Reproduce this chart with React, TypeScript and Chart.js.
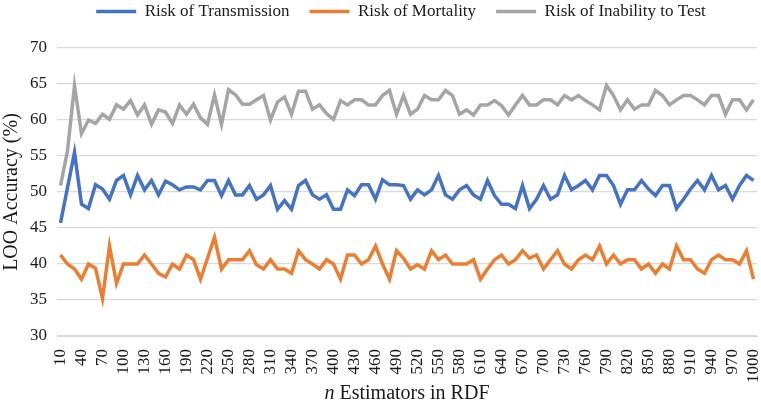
import React, { useEffect, useRef } from "react";
import { Chart, registerables } from "chart.js";

Chart.register(...registerables);

const categories = [
  "10","20","30","40","50","60","70","80","90","100",
  "110","120","130","140","150","160","170","180","190","200",
  "210","220","230","240","250","260","270","280","290","300",
  "310","320","330","340","350","360","370","380","390","400",
  "410","420","430","440","450","460","470","480","490","500",
  "510","520","530","540","550","560","570","580","590","600",
  "610","620","630","640","650","660","670","680","690","700",
  "710","720","730","740","750","760","770","780","790","800",
  "810","820","830","840","850","860","870","880","890","900",
  "910","920","930","940","950","960","970","980","990","1000",
];

const shownTickLabels = [
  "10","40","70","100","130","160","190","220","250","280","310","340",
  "370","400","430","460","490","520","550","580","610","640","670","700",
  "730","760","790","820","850","880","910","940","970","1000",
];

const transmission = [
  45.7, 50.6, 55.5, 48.3, 47.7, 51.0, 50.4, 49.0, 51.6, 52.3, 49.6, 52.3, 50.3, 51.6, 49.6,
  51.5, 51.0, 50.3, 50.7, 50.7, 50.3, 51.6, 51.6, 49.5, 51.6, 49.6, 49.6, 50.9, 49.0, 49.6, 50.9, 47.6,
  48.8, 47.6, 50.9, 51.6, 49.6, 49.0, 49.6, 47.6, 47.6, 50.3, 49.5, 51.0, 51.0, 49.0, 51.7, 51.0, 51.0,
  50.9, 49.0, 50.3, 49.6, 50.3, 52.3, 49.6, 49.0, 50.3, 50.9, 49.6, 49.0, 51.6, 49.5, 48.3, 48.3, 47.7,
  50.9, 47.7, 49.0, 50.9, 49.0, 49.6, 52.3, 50.3, 50.9, 51.6, 50.3, 52.3, 52.3, 50.9, 48.3, 50.3, 50.3,
  51.6, 50.4, 49.5, 50.9, 50.9, 47.7, 49.0, 50.4, 51.6, 50.3, 52.3, 50.3, 50.9, 49.0, 50.9, 52.3, 51.6,
];

const mortality = [
  41.25, 40.0, 39.3, 37.9, 40.0, 39.4, 35.2, 42.5, 37.3, 40.0, 40.0, 40.0, 41.25, 40.0, 38.7,
  38.2, 40.0, 39.3, 41.25, 40.6, 37.9, 40.8, 43.7, 39.3, 40.6, 40.6, 40.6, 41.85, 39.9, 39.3, 40.6, 39.3,
  39.3, 38.7, 41.85, 40.6, 40.0, 39.3, 40.6, 40.0, 37.9, 41.25, 41.25, 40.0, 40.6, 42.5, 40.0, 37.9, 41.85,
  40.8, 39.3, 39.9, 39.3, 41.85, 40.6, 41.25, 40.0, 40.0, 40.0, 40.6, 37.9, 39.3, 40.6, 41.25, 40.0, 40.6,
  41.85, 40.8, 41.25, 39.3, 40.6, 41.85, 40.0, 39.3, 40.6, 41.25, 40.6, 42.5, 40.0, 41.25, 40.0, 40.6, 40.6,
  39.3, 40.0, 38.7, 40.0, 39.3, 42.5, 40.6, 40.6, 39.3, 38.7, 40.6, 41.25, 40.6, 40.6, 40.0, 41.85, 37.9,
];

const inability = [
  50.9, 55.7, 64.8, 58.1, 60.0, 59.5, 60.8, 60.1, 62.1, 61.5, 62.7, 60.7, 62.1, 59.4, 61.4,
  61.1, 59.5, 62.1, 60.8, 62.2, 60.3, 59.4, 63.5, 59.4, 64.2, 63.5, 62.2, 62.2, 62.8, 63.4, 60.0, 62.5,
  63.2, 60.8, 64.0, 64.0, 61.5, 62.1, 60.9, 60.1, 62.7, 62.1, 62.8, 62.8, 62.1, 62.1, 63.4, 64.1, 60.8,
  63.4, 60.8, 61.5, 63.4, 62.8, 62.8, 64.1, 63.4, 60.8, 61.4, 60.7, 62.1, 62.1, 62.7, 62.0, 60.7, 62.1,
  63.4, 62.1, 62.1, 62.8, 62.8, 62.1, 63.4, 62.8, 63.4, 62.7, 62.1, 61.4, 64.8, 63.4, 61.4, 62.8, 61.5,
  62.1, 62.1, 64.1, 63.4, 62.1, 62.8, 63.4, 63.4, 62.8, 62.1, 63.4, 63.4, 60.8, 62.8, 62.8, 61.4, 62.8,
];

const seriesNames = ["Risk of Transmission", "Risk of Mortality", "Risk of Inability to Test"];
const seriesColors = ["#4472C4", "#ED7D31", "#A5A5A5"];
const xTitleItalic = "n";
const xTitleRest = " Estimators in RDF";
const yTitle = "LOO Accuracy (%)";

const FONT = "'Liberation Serif', 'Times New Roman', serif";
const TEXT = "#1a1a1a";
const TITLE_SIZE = 20;
const TITLE_PAD_BOTTOM = 0;

export default function App() {
  const ref = useRef<HTMLCanvasElement | null>(null);

  useEffect(() => {
    if (!ref.current) return;
    const seriesData = [transmission, mortality, inability];
    const chart = new Chart(ref.current, {
      type: "line",
      data: {
        labels: categories,
        datasets: seriesNames.map((name, k) => ({
          label: name,
          data: seriesData[k],
          borderColor: seriesColors[k],
          backgroundColor: seriesColors[k],
          borderWidth: 3.5,
          pointRadius: 0,
          tension: 0,
          fill: false,
          pointStyle: "line",
        })),
      },
      options: {
        animation: false,
        responsive: true,
        maintainAspectRatio: false,
        layout: { padding: { left: 0, right: 4, top: -17, bottom: 0 } },
        plugins: {
          tooltip: { enabled: false },
          legend: {
            position: "top",
            fullSize: false,
            labels: {
              usePointStyle: true,
              pointStyleWidth: 40,
              padding: 20,
              color: TEXT,
              font: { family: FONT, size: 17 },
            },
          },
        },
        scales: {
          x: {
            type: "category",
            offset: true,
            grid: { display: false },
            border: { display: true, color: "#D9D9D9", width: 1 },
            afterFit(scale: any) {
              scale.paddingRight = 0;
              scale.paddingLeft = 0;
              scale.height = 70;
            },
            ticks: {
              autoSkip: false,
              maxRotation: 90,
              minRotation: 90,
              color: TEXT,
              font: { family: FONT, size: 17 },
              padding: 5,
              callback: function (this: any, _v: any, index: number) {
                const lab = categories[index];
                return shownTickLabels.includes(lab) ? lab : "";
              },
            },
            title: {
              display: true,
              color: "rgba(0,0,0,0)",
              font: { family: FONT, size: TITLE_SIZE },
              text: xTitleItalic + xTitleRest,
              padding: { top: 0, bottom: TITLE_PAD_BOTTOM },
            },
          },
          y: {
            min: 30,
            max: 70,
            afterFit(scale: any) {
              scale.width = 57;
            },
            ticks: {
              stepSize: 5,
              color: TEXT,
              font: { family: FONT, size: 17 },
              padding: 10,
            },
            grid: { color: "#D9D9D9", lineWidth: 1.2, drawTicks: false },
            border: { display: false },
            title: {
              display: true,
              color: TEXT,
              font: { family: FONT, size: TITLE_SIZE },
              text: yTitle,
              padding: { top: 0, bottom: 4 },
            },
          },
        },
      },
      plugins: [
        {
          id: "legendMargin",
          beforeInit(c: any) {
            const lg = c.legend;
            if (!lg) return;
            const orig = lg.fit.bind(lg);
            lg.fit = function () {
              orig();
              this.height += 18;
            };
          },
          afterLayout(c: any) {
            const lg = c.legend;
            if (!lg) return;
            lg.left -= 6;
            lg.right -= 6;
          },
        },
        {
          id: "italicTitle",
          afterDraw(c: any) {
            const xs = c.scales.x;
            const ctx = c.ctx;
            const lineH = TITLE_SIZE * 1.2;
            const y = xs.bottom - TITLE_PAD_BOTTOM - lineH / 2;
            const cx = (xs.left + xs.right) / 2;
            ctx.save();
            ctx.textBaseline = "middle";
            ctx.textAlign = "left";
            ctx.fillStyle = TEXT;
            ctx.font = `italic ${TITLE_SIZE}px ${FONT}`;
            const w1 = ctx.measureText(xTitleItalic).width;
            ctx.font = `${TITLE_SIZE}px ${FONT}`;
            const w2 = ctx.measureText(xTitleRest).width;
            const x0 = cx - (w1 + w2) / 2;
            ctx.font = `italic ${TITLE_SIZE}px ${FONT}`;
            ctx.fillText(xTitleItalic, x0, y);
            ctx.font = `${TITLE_SIZE}px ${FONT}`;
            ctx.fillText(xTitleRest, x0 + w1, y);
            ctx.restore();
          },
        },
      ],
    } as any);
    return () => chart.destroy();
  }, []);

  return (
    <div style={{ position: "fixed", left: 0, top: 0, width: 761, height: 406, background: "#fff" }}>
      <canvas ref={ref} />
    </div>
  );
}
